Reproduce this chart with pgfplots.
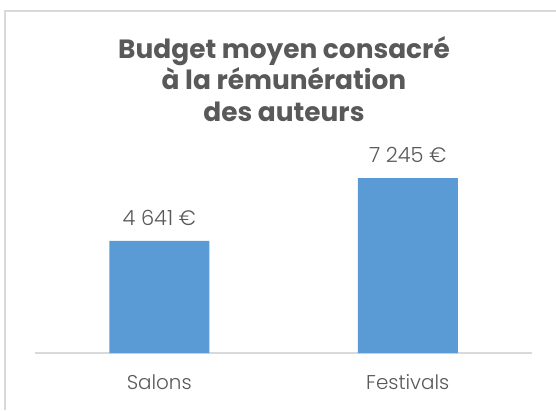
\documentclass[border=0pt]{standalone}
\usepackage{fontspec}
\setmainfont{Poppins}[UprightFont=* Light]
\newfontfamily\titlefont{Poppins}
\usepackage{pgfplots}
\pgfplotsset{compat=1.18}
\definecolor{barblue}{HTML}{5B9BD5}
\definecolor{txtgray}{HTML}{595959}
\definecolor{linegray}{HTML}{D9D9D9}
\begin{document}
\begin{tikzpicture}[x=1bp,y=1bp]
\useasboundingbox (0,0) rectangle (556,410);
\fill[white] (0,0) rectangle (556,410);
\draw[linegray, line width=1.5bp] (5,0) -- (5,399) -- (556,399);
\node[text=txtgray, align=center, font=\titlefont\bfseries\fontsize{26.5}{32}\selectfont] at (284,331) {Budget moyen consacré\\à la rémunération\\des auteurs};
\begin{axis}[
  at={(35bp,57bp)}, anchor=south west,
  width=497bp, height=193.2bp, scale only axis,
  xmin=-0.5, xmax=1.5, ymin=0, ymax=8000,
  axis x line*=bottom, axis y line=none,
  x axis line style={linegray, line width=1.5bp, -},
  xtick=data, xticklabels={Salons,Festivals},
  major tick length=0pt,
  xticklabel style={text=txtgray, font=\fontsize{20}{20}\selectfont, yshift=-18bp},
  ybar, bar width=100bp,
  nodes near coords, point meta=explicit symbolic,
  every node near coord/.append style={text=txtgray, font=\fontsize{21}{20}\selectfont, yshift=12bp},
  clip=false,
]
\addplot[fill=barblue, draw=none] coordinates {(0,4641) [4 641 €] (1,7245) [7 245 €]};
\end{axis}
\end{tikzpicture}
\end{document}
